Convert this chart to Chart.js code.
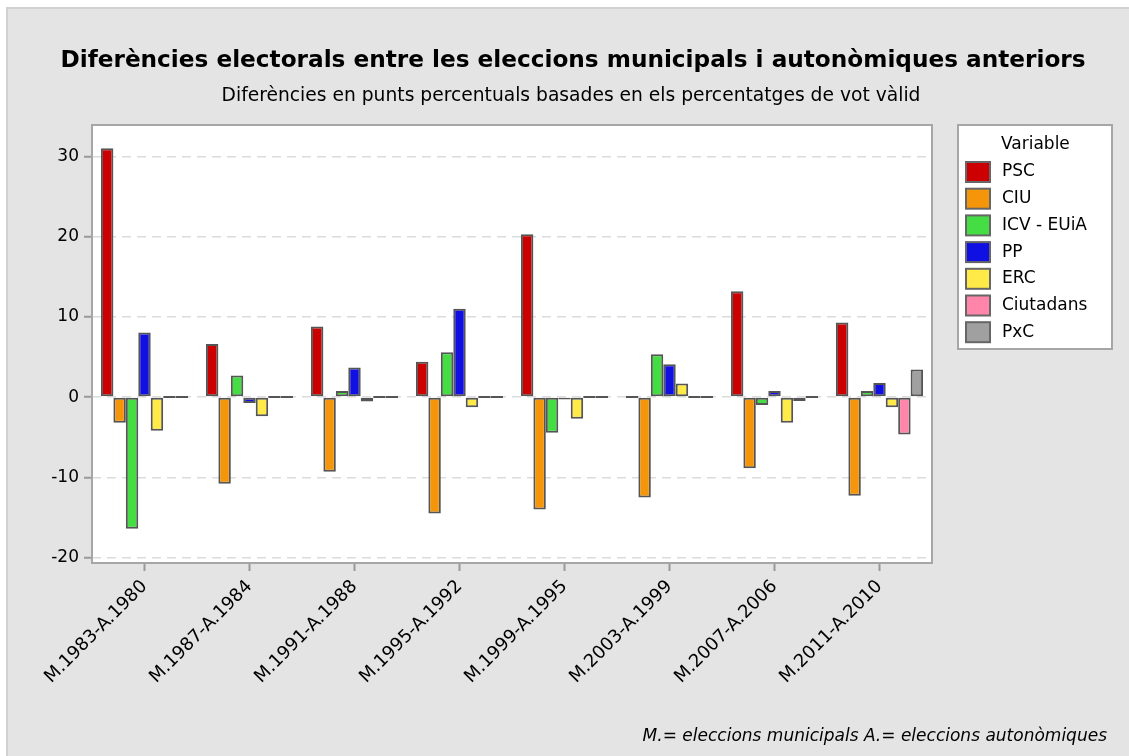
<!DOCTYPE html>
<html><head><meta charset="utf-8">
<script src="https://cdn.jsdelivr.net/npm/chart.js@4.4.1/dist/chart.umd.min.js"></script>
<style>html,body{margin:0;padding:0;background:#fff;overflow:hidden}canvas{display:block}</style>
</head><body>
<div style="width:1129px;height:756px;position:relative"><canvas id="c" width="1129" height="756"></canvas></div>
<script>
const categories = ['M.1983-A.1980','M.1987-A.1984','M.1991-A.1988','M.1995-A.1992','M.1999-A.1995','M.2003-A.1999','M.2007-A.2006','M.2011-A.2010'];
const seriesNames = ['PSC','CIU','ICV - EUiA','PP','ERC','Ciutadans','PxC'];
const psc       = [31.0,  6.6,  8.8,   4.4,  20.3,   0.0,  13.2,   9.3];
const ciu       = [-3.2, -10.8, -9.3, -14.5, -14.0, -12.5,  -8.85, -12.3];
const icv       = [-16.4, 2.7,  0.75,  5.6,  -4.45,  5.35, -1.0,    0.75];
const pp        = [8.05, -0.75, 3.7,  11.0,  -0.3,   4.1,   0.75,   1.75];
const erc       = [-4.2, -2.4, -0.55, -1.25, -2.7,   1.7,  -3.2,   -1.25];
const ciutadans = [0, 0, 0, 0, 0, 0, -0.5, -4.65];
const pxc       = [0, 0, 0, 0, 0, 0, 0, 3.45];
const yTicks = [-20, -10, 0, 10, 20, 30];
const titleText = 'Diferències electorals entre les eleccions municipals i autonòmiques anteriors';
const subtitleText = 'Diferències en punts percentuals basades en els percentatges de vot vàlid';
const footnoteText = 'M.= eleccions municipals A.= eleccions autonòmiques';
const legendTitle = 'Variable';

const colors = ['#cc0000','#f5960a','#44dd44','#1010e2','#ffea47','#ff86aa','#a0a0a0'];
const values = [psc, ciu, icv, pp, erc, ciutadans, pxc];
const FONT = '"DejaVu Sans", Verdana, sans-serif';

const decor = {
  id: 'decor',
  beforeDraw(chart) {
    const ctx = chart.ctx, a = chart.chartArea;
    ctx.save();
    ctx.fillStyle = '#ffffff';
    ctx.fillRect(0, 0, chart.width, chart.height);
    ctx.fillStyle = '#e4e4e4';
    ctx.fillRect(7, 8, chart.width - 7, chart.height - 8);
    ctx.strokeStyle = '#d2d2d2';
    ctx.lineWidth = 2;
    ctx.strokeRect(7, 8, chart.width + 10, chart.height + 10);
    ctx.fillStyle = '#ffffff';
    ctx.fillRect(a.left, a.top, a.right - a.left, a.bottom - a.top);
    ctx.fillStyle = '#000';
    ctx.textAlign = 'center';
    ctx.textBaseline = 'middle';
    ctx.font = 'bold 23.2px ' + FONT;
    ctx.fillText(titleText, 573, 61);
    ctx.font = '18.7px ' + FONT;
    ctx.fillText(subtitleText, 571, 96);
    ctx.font = 'italic 17px ' + FONT;
    ctx.textAlign = 'right';
    ctx.fillText(footnoteText, 1107, 737);
    ctx.restore();
  },
  afterDraw(chart) {
    const ctx = chart.ctx, a = chart.chartArea;
    ctx.save();
    ctx.strokeStyle = '#a6a6a6';
    ctx.lineWidth = 2;
    ctx.strokeRect(a.left, a.top, a.right - a.left, a.bottom - a.top);
    const lx = 958, ly = 125, lw = 154, lh = 224;
    ctx.fillStyle = '#ffffff';
    ctx.fillRect(lx, ly, lw, lh);
    ctx.strokeStyle = '#a6a6a6';
    ctx.lineWidth = 2;
    ctx.strokeRect(lx, ly, lw, lh);
    ctx.fillStyle = '#000';
    ctx.font = '17px ' + FONT;
    ctx.textAlign = 'left';
    ctx.textBaseline = 'middle';
    ctx.fillText(legendTitle, 1001, 145);
    chart.data.datasets.forEach((ds, i) => {
      const cy = 172 + i * 26.7;
      ctx.fillStyle = ds.backgroundColor;
      ctx.fillRect(966, cy - 10, 24, 20);
      ctx.strokeStyle = '#666666';
      ctx.lineWidth = 2;
      ctx.strokeRect(966, cy - 10, 24, 20);
      ctx.fillStyle = '#000';
      ctx.fillText(ds.label, 1002, cy);
    });
    ctx.restore();
  }
};

new Chart(document.getElementById('c'), {
  type: 'bar',
  data: {
    labels: categories,
    datasets: seriesNames.map((n, i) => ({
      label: n,
      data: values[i],
      backgroundColor: colors[i],
      borderColor: '#555555',
      borderWidth: 2,
      borderSkipped: false,
      minBarLength: 2,
      categoryPercentage: 0.83,
      barPercentage: 1.0
    }))
  },
  options: {
    responsive: false,
    animation: false,
    devicePixelRatio: 1,
    layout: { padding: { left: 0, top: 125, right: 197, bottom: 0 } },
    plugins: { legend: { display: false }, title: { display: false }, tooltip: { enabled: false } },
    scales: {
      x: {
        afterFit(s) { s.height = 193; },
        grid: { display: true, drawOnChartArea: false, drawTicks: true, tickLength: 8, tickColor: '#9a9a9a', tickWidth: 2, offset: false },
        border: { display: false },
        ticks: { color: '#000', font: { family: FONT, size: 18 }, minRotation: 45, maxRotation: 45, padding: 5, autoSkip: false }
      },
      y: {
        min: -20.67,
        max: 33.9,
        afterFit(s) { s.width = 92; },
        afterBuildTicks(s) { s.ticks = yTicks.map(v => ({ value: v })); },
        grid: { color: '#dcdcdc', lineWidth: 1.5, drawTicks: true, tickLength: 8, tickColor: '#9a9a9a', tickWidth: 2 },
        border: { display: false, dash: [9, 6] },
        ticks: { color: '#000', font: { family: FONT, size: 17 }, padding: 5 }
      }
    }
  },
  plugins: [decor]
});
</script>
</body></html>
